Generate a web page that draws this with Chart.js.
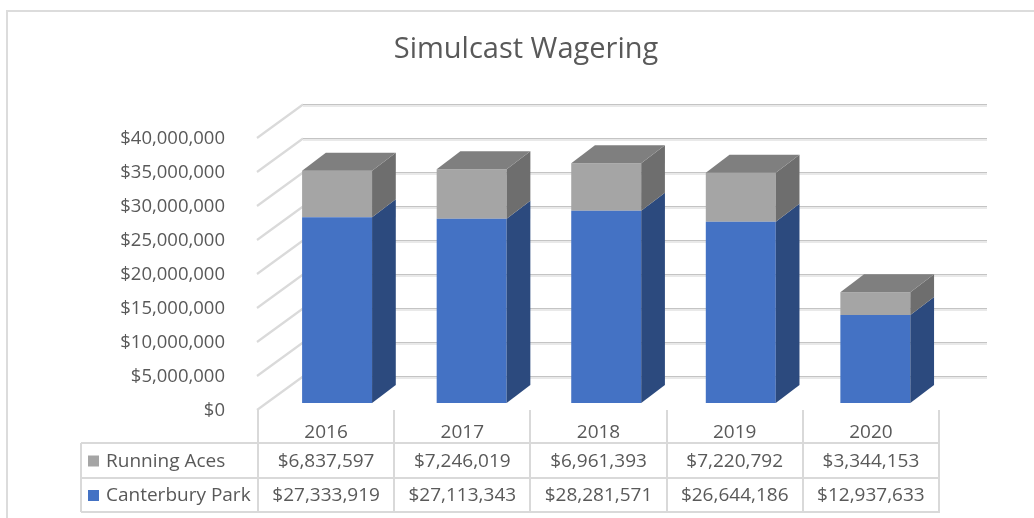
<!DOCTYPE html>
<html><head><meta charset="utf-8">
<script src="https://cdn.jsdelivr.net/npm/chart.js@4.4.1/dist/chart.umd.min.js"></script>
<style>html,body{margin:0;padding:0;background:#fff;overflow:hidden}#wrap{width:1034px;height:518px;position:relative}</style>
</head><body><div id="wrap"><canvas id="c" width="1034" height="518"></canvas></div>
<script>
const chartTitle = 'Simulcast Wagering';
const years = ['2016', '2017', '2018', '2019', '2020'];
const seriesNames = ['Running Aces', 'Canterbury Park'];
const runningAces = [6837597, 7246019, 6961393, 7220792, 3344153];
const canterburyPark = [27333919, 27113343, 28281571, 26644186, 12937633];
const yMin = 0, yMax = 40000000, yStep = 5000000;

const FONT = '"Open Sans", "DejaVu Sans", sans-serif';
const TXT = '#595959';
const BLUE = '#4472c4', BLUE_SIDE = '#2c4a7e';
const GRAY = '#a5a5a5', GRAY_SIDE = '#6e6e6e', GRAY_TOP = '#7f7f7f';
const fmt = v => '$' + Math.round(v).toLocaleString('en-US');

const DX = 24, DY = 18;          // bar depth
const BS = 0.988, BT = 14.9;     // bar perspective shift
const BACK_DY = 27.5;            // back wall offset
const LINE = '#d9d9d9';

function poly(ctx, pts, color) {
  ctx.beginPath();
  ctx.moveTo(pts[0][0], pts[0][1]);
  for (let i = 1; i < pts.length; i++) ctx.lineTo(pts[i][0], pts[i][1]);
  ctx.closePath();
  ctx.fillStyle = color;
  ctx.fill();
}

const fake3d = {
  id: 'fake3d',
  beforeDraw(chart) {
    const ctx = chart.ctx;
    ctx.save();
    ctx.strokeStyle = '#dcdcdc';
    ctx.lineWidth = 2;
    ctx.beginPath();
    ctx.moveTo(7, 518); ctx.lineTo(7, 11); ctx.lineTo(1034, 11);
    ctx.stroke();
    ctx.restore();
  },
  beforeDatasetsDraw(chart) {
    const { ctx, chartArea: ca, scales: { y } } = chart;
    ctx.save();
    const backL = ca.left + 45, backR = ca.right + 48;
    for (let v = yMin; v <= yMax; v += yStep) {
      const py = y.getPixelForValue(v);
      const by = Math.round(py - BACK_DY) + 0.5;
      ctx.strokeStyle = '#dadada';
      ctx.lineWidth = 2.2;
      ctx.beginPath();
      ctx.moveTo(ca.left - 1, py + 7);
      ctx.lineTo(backL, by);
      ctx.stroke();
      ctx.strokeStyle = '#e9e9e9';
      ctx.lineWidth = 2;
      ctx.beginPath(); ctx.moveTo(backL, by + 1.5); ctx.lineTo(backR, by + 1.5); ctx.stroke();
      ctx.strokeStyle = '#c4c4c4';
      ctx.lineWidth = 1;
      ctx.beginPath(); ctx.moveTo(backL, by); ctx.lineTo(backR, by); ctx.stroke();
    }
    ctx.restore();
    ctx.save();
    ctx.translate(BT, 0);
    ctx.scale(BS, 1);
  },
  afterDatasetsDraw(chart) {
    const ctx = chart.ctx;
    const mB = chart.getDatasetMeta(0), mG = chart.getDatasetMeta(1);
    for (let i = 0; i < years.length; i++) {
      const b = mB.data[i].getProps(['x', 'y', 'base', 'width'], true);
      const g = mG.data[i].getProps(['x', 'y', 'base', 'width'], true);
      const xr = b.x + b.width / 2, xl = b.x - b.width / 2;
      poly(ctx, [[xr, b.base], [xr, b.y], [xr + DX, b.y - DY], [xr + DX, b.base - DY]], BLUE_SIDE);
      poly(ctx, [[xr, g.base], [xr, g.y], [xr + DX, g.y - DY], [xr + DX, g.base - DY]], GRAY_SIDE);
      poly(ctx, [[xl, g.y], [xr, g.y], [xr + DX, g.y - DY], [xl + DX, g.y - DY]], GRAY_TOP);
    }
    ctx.restore();
  },
  afterDraw(chart) {
    const { ctx, scales: { x } } = chart;
    ctx.save();
    ctx.fillStyle = TXT;
    ctx.font = '29px ' + FONT;
    ctx.textAlign = 'center';
    ctx.textBaseline = 'middle';
    ctx.fillText(chartTitle, 526, 50);

    const half = (x.getPixelForValue(1) - x.getPixelForValue(0)) / 2;
    const bounds = [];
    for (let i = 0; i < years.length; i++) bounds.push(x.getPixelForValue(i) - half);
    bounds.push(x.getPixelForValue(years.length - 1) + half);
    const top = 410, r1 = 443, r2 = 478, r3 = 512, tl = 81;
    ctx.strokeStyle = LINE;
    ctx.lineWidth = 2;
    ctx.beginPath();
    bounds.forEach(bx => { ctx.moveTo(Math.round(bx), top); ctx.lineTo(Math.round(bx), r3); });
    ctx.moveTo(tl, r1); ctx.lineTo(tl, r3);
    [r1, r2, r3].forEach(ry => { ctx.moveTo(tl, ry); ctx.lineTo(Math.round(bounds[bounds.length - 1]) + 1, ry); });
    ctx.stroke();

    const rows = [
      { name: seriesNames[0], color: GRAY, vals: runningAces, cy: (r1 + r2) / 2 },
      { name: seriesNames[1], color: BLUE, vals: canterburyPark, cy: (r2 + r3) / 2 }
    ];
    ctx.font = '19px ' + FONT;
    ctx.textBaseline = 'middle';
    rows.forEach(r => {
      ctx.fillStyle = r.color;
      ctx.fillRect(88, r.cy - 5, 11, 11);
      ctx.fillStyle = TXT;
      ctx.textAlign = 'left';
      ctx.fillText(r.name, 106, r.cy + 1);
      ctx.textAlign = 'center';
      r.vals.forEach((v, i) => ctx.fillText(fmt(v), x.getPixelForValue(i), r.cy + 1));
    });
    ctx.restore();
  }
};

new Chart(document.getElementById('c'), {
  type: 'bar',
  data: {
    labels: years,
    datasets: [
      { label: seriesNames[1], data: canterburyPark, backgroundColor: BLUE, clip: false,
        categoryPercentage: 1, barPercentage: 0.52 },
      { label: seriesNames[0], data: runningAces, backgroundColor: GRAY, clip: false,
        categoryPercentage: 1, barPercentage: 0.52 }
    ]
  },
  options: {
    responsive: false,
    animation: false,
    devicePixelRatio: 1,
    layout: { padding: { left: 0, right: 95, top: 131, bottom: 0 } },
    plugins: { legend: { display: false }, tooltip: { enabled: false }, title: { display: false } },
    scales: {
      x: {
        stacked: true,
        grid: { display: false },
        border: { display: false },
        ticks: { color: TXT, font: { family: FONT, size: 19 }, padding: 10 },
        afterFit: s => { s.height = 518 - 403; }
      },
      y: {
        stacked: true,
        min: yMin, max: yMax,
        grid: { display: false },
        border: { display: false },
        ticks: { stepSize: yStep, color: TXT, font: { family: FONT, size: 18.5 }, padding: 25,
                 labelOffset: 8, callback: v => fmt(v) },
        afterFit: s => { s.width = 258; }
      }
    }
  },
  plugins: [fake3d]
});
</script>
</body></html>
